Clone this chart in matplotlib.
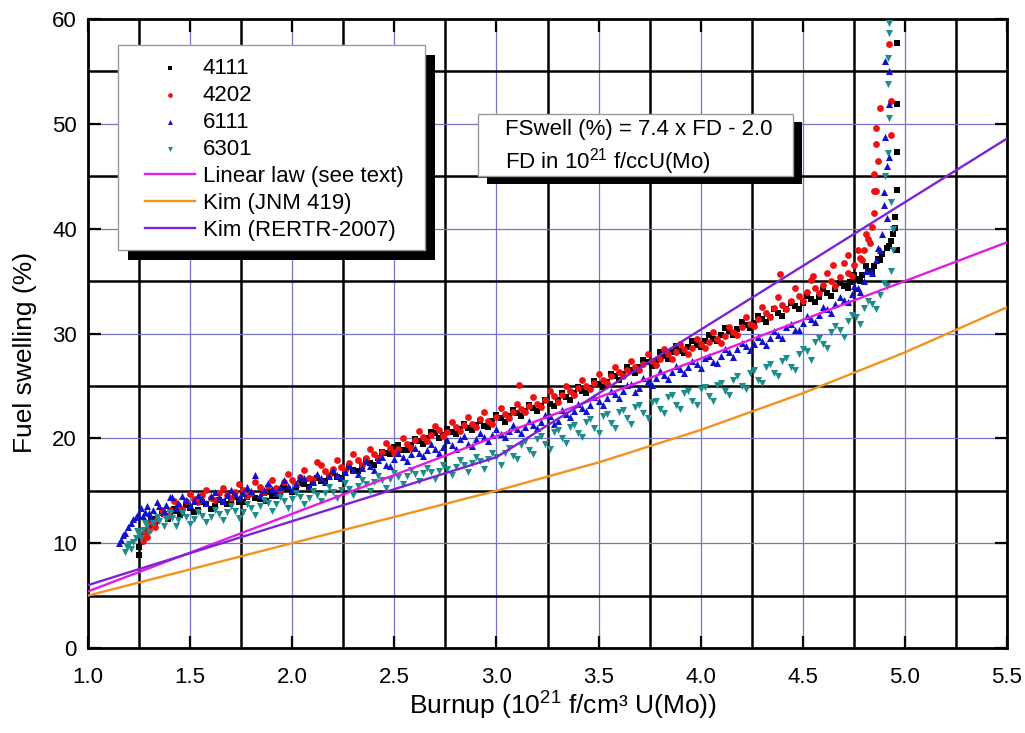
import matplotlib.pyplot as plt
from matplotlib.patches import Rectangle

plt.rcParams["font.family"] = ["Liberation Sans", "DejaVu Sans"]
plt.rcParams["mathtext.default"] = "regular"

# --- measured data (burnup in 1e21 f/cm3, swelling in %) ---
x_4111 = [1.25, 1.25, 1.26, 1.27, 1.28, 1.30, 1.32, 1.34, 1.37, 1.40, 1.43, 1.46, 1.50, 1.54, 1.58,
          1.62, 1.66, 1.70, 1.74, 1.78, 1.82, 1.86, 1.87, 1.90, 1.94, 1.98, 2.02, 2.06, 2.10, 2.14,
          2.18, 2.22, 2.26, 2.30, 2.34, 2.38, 2.42, 2.46, 2.50, 2.54, 2.58, 2.62, 2.66, 2.70, 2.74,
          2.78, 2.82, 2.86, 2.90, 2.94, 2.98, 3.02, 3.06, 3.10, 3.14, 3.18, 3.22, 3.26, 3.30, 3.34,
          3.38, 3.42, 3.46, 3.50, 3.54, 3.58, 3.62, 3.66, 3.70, 3.74, 3.78, 3.82, 3.86, 3.90, 3.94,
          3.98, 4.02, 4.06, 4.10, 4.14, 4.18, 4.22, 4.26, 4.30, 4.34, 4.38, 4.42, 4.46, 4.50, 4.54,
          4.58, 4.62, 4.66, 4.70, 4.73, 4.76, 4.79, 4.82, 4.85, 4.87, 4.89, 4.91, 4.93, 4.94, 4.95,
          4.95, 4.96, 4.96, 4.96, 4.96, 4.96]
y_4111 = [8.9, 9.6, 10.1, 10.6, 11.2, 11.6, 12.3, 12.1, 12.8, 12.6, 13.1, 12.9, 13.4, 13.2, 13.7,
          13.5, 13.9, 14.1, 13.9, 14.4, 14.3, 14.8, 14.0, 14.5, 15.0, 15.2, 15.1, 15.6, 15.8, 15.9,
          16.4, 16.3, 16.8, 17.0, 17.4, 17.6, 18.1, 18.6, 19.2, 18.9, 19.4, 19.7, 20.0, 20.5, 20.3,
          20.6, 20.9, 21.0, 21.3, 21.2, 21.7, 21.9, 22.1, 22.4, 22.6, 22.9, 23.1, 23.3, 23.7, 23.9,
          24.3, 24.5, 24.8, 25.2, 25.4, 25.9, 26.1, 26.5, 26.8, 27.3, 27.4, 27.9, 28.2, 28.3, 28.7,
          28.9, 29.3, 29.5, 29.9, 30.2, 30.4, 30.8, 31.0, 31.4, 31.6, 32.0, 32.3, 32.6, 32.9, 33.3,
          33.5, 33.9, 34.2, 34.5, 34.9, 35.2, 35.6, 36.0, 36.4, 37.1, 37.6, 38.2, 38.8, 39.5, 40.1,
          41.1, 43.7, 47.3, 51.9, 57.7, 38.0]
x_4111_b = [1.29, 1.31, 1.33, 1.36, 1.39, 1.42, 1.45, 1.48, 1.52, 1.56, 1.60, 1.64, 1.68, 1.72, 1.76,
            1.80, 1.84, 1.88, 1.92, 1.96, 2.00, 2.04, 2.08, 2.12, 2.16, 2.20, 2.24, 2.28, 2.32, 2.36,
            2.40, 2.44, 2.48, 2.52, 2.56, 2.60, 2.64, 2.68, 2.72, 2.76, 2.80, 2.84, 2.88, 2.92, 2.96,
            3.00, 3.04, 3.08, 3.12, 3.16, 3.20, 3.24, 3.28, 3.32, 3.36, 3.40, 3.44, 3.48, 3.52, 3.56,
            3.60, 3.64, 3.68, 3.72, 3.76, 3.80, 3.84, 3.88, 3.92, 3.96, 4.00, 4.04, 4.08, 4.12, 4.16,
            4.20, 4.24, 4.28, 4.32, 4.36, 4.40, 4.44, 4.48, 4.52, 4.56, 4.60, 4.64, 4.68, 4.72, 4.75,
            4.78, 4.81, 4.84, 4.88, 4.92]
y_4111_b = [11.0, 12.2, 11.8, 12.9, 12.3, 13.3, 12.7, 13.6, 13.0, 13.9, 13.3, 14.1, 13.7, 14.4, 13.9,
            14.7, 14.2, 14.9, 14.5, 15.4, 14.9, 15.7, 15.4, 16.2, 15.9, 16.7, 16.2, 17.3, 16.9, 17.9,
            17.5, 18.7, 18.5, 19.4, 18.9, 19.9, 19.5, 20.6, 20.0, 20.9, 20.4, 21.4, 20.8, 21.7, 21.1,
            22.2, 21.6, 22.7, 22.1, 23.2, 22.6, 23.7, 23.1, 24.3, 23.7, 24.9, 24.3, 25.5, 24.9, 26.1,
            25.6, 26.8, 26.2, 27.5, 26.9, 28.2, 27.6, 28.8, 28.1, 29.3, 28.7, 29.9, 29.3, 30.5, 29.9,
            31.1, 30.5, 31.7, 31.1, 32.3, 31.7, 32.9, 32.3, 33.6, 33.0, 34.2, 33.6, 34.8, 34.3, 35.6,
            35.0, 36.4, 35.9, 37.0, 38.3]

x_4202 = [1.27, 1.28, 1.30, 1.32, 1.34, 1.37, 1.40, 1.44, 1.48, 1.52, 1.56, 1.60, 1.64, 1.68, 1.72,
          1.76, 1.80, 1.84, 1.88, 1.92, 1.96, 2.00, 2.04, 2.08, 2.12, 2.16, 2.20, 2.24, 2.28, 2.32,
          2.36, 2.40, 2.44, 2.48, 2.52, 2.56, 2.60, 2.64, 2.68, 2.72, 2.76, 2.80, 2.84, 2.88, 2.92,
          2.96, 3.00, 3.04, 3.08, 3.11, 3.12, 3.16, 3.20, 3.24, 3.28, 3.32, 3.36, 3.40, 3.44, 3.48,
          3.52, 3.56, 3.60, 3.64, 3.68, 3.72, 3.76, 3.80, 3.84, 3.88, 3.92, 3.96, 4.00, 4.04, 4.08,
          4.12, 4.16, 4.20, 4.24, 4.28, 4.32, 4.36, 4.39, 4.40, 4.44, 4.48, 4.52, 4.55, 4.56, 4.60,
          4.64, 4.65, 4.68, 4.72, 4.72, 4.75, 4.78, 4.80, 4.82, 4.84, 4.85, 4.86, 4.85, 4.87, 4.86,
          4.86, 4.85, 4.88, 4.92, 4.93, 4.93]
y_4202 = [10.2, 10.9, 11.3, 11.8, 12.3, 12.8, 13.2, 13.6, 14.0, 14.2, 14.6, 14.3, 14.8, 14.6, 14.9,
          15.1, 14.8, 15.4, 15.5, 15.3, 15.8, 16.0, 16.3, 16.2, 17.7, 16.9, 17.1, 17.3, 17.6, 17.9,
          18.1, 18.5, 18.7, 19.1, 19.0, 19.5, 19.8, 20.1, 20.3, 20.8, 20.6, 21.1, 21.3, 21.4, 21.8,
          21.7, 22.0, 22.3, 22.5, 25.1, 22.8, 23.1, 23.3, 23.7, 24.0, 24.1, 24.5, 24.8, 25.0, 25.3,
          25.6, 25.9, 26.3, 26.5, 26.8, 27.1, 27.4, 27.6, 28.0, 28.2, 28.5, 28.6, 29.0, 29.2, 29.5,
          29.8, 30.1, 30.6, 30.9, 31.4, 32.0, 32.4, 35.7, 32.7, 33.1, 33.6, 34.0, 35.5, 34.3, 34.6,
          35.0, 36.5, 35.4, 35.8, 37.5, 36.5, 37.2, 38.0, 39.0, 40.2, 41.5, 43.6, 45.2, 46.5, 48.1,
          49.6, 43.6, 51.5, 57.6, 52.2, 48.9]
x_4202_b = [1.29, 1.31, 1.33, 1.36, 1.39, 1.42, 1.46, 1.50, 1.54, 1.58, 1.62, 1.66, 1.70, 1.74, 1.78,
            1.82, 1.86, 1.90, 1.94, 1.98, 2.02, 2.06, 2.10, 2.14, 2.18, 2.22, 2.26, 2.30, 2.34, 2.38,
            2.42, 2.46, 2.50, 2.54, 2.58, 2.62, 2.66, 2.70, 2.74, 2.78, 2.82, 2.86, 2.90, 2.94, 2.98,
            3.02, 3.06, 3.10, 3.14, 3.18, 3.22, 3.26, 3.30, 3.34, 3.38, 3.42, 3.46, 3.50, 3.54, 3.58,
            3.62, 3.66, 3.70, 3.74, 3.78, 3.82, 3.86, 3.90, 3.94, 3.98, 4.02, 4.06, 4.10, 4.14, 4.18,
            4.22, 4.26, 4.30, 4.34, 4.38, 4.42, 4.46, 4.50, 4.54, 4.58, 4.62, 4.66, 4.70, 4.74, 4.77,
            4.79, 4.81, 4.83]
y_4202_b = [10.6, 12.1, 11.5, 13.2, 12.6, 14.0, 13.3, 14.7, 13.9, 15.1, 14.1, 15.3, 14.3, 15.6, 14.5,
            15.8, 14.9, 16.0, 15.1, 16.6, 15.6, 17.0, 16.1, 17.5, 16.5, 17.9, 17.0, 18.5, 17.5, 19.0,
            18.1, 19.6, 18.6, 20.0, 19.1, 20.7, 19.7, 21.2, 20.2, 21.6, 20.7, 22.0, 21.1, 22.5, 21.4,
            22.9, 21.9, 23.3, 22.5, 23.9, 23.0, 24.5, 23.5, 25.0, 24.1, 25.6, 24.7, 26.1, 25.3, 26.8,
            25.9, 27.4, 26.5, 28.0, 27.0, 28.5, 27.6, 29.0, 28.0, 29.5, 28.6, 30.1, 29.1, 30.6, 29.9,
            31.6, 30.7, 32.5, 31.6, 33.5, 32.3, 34.3, 33.1, 35.1, 33.9, 35.8, 34.5, 36.7, 35.5, 38.0,
            37.0, 39.5, 38.6]

x_6111 = [1.15, 1.16, 1.17, 1.18, 1.195, 1.21, 1.22, 1.235, 1.245, 1.26, 1.28, 1.30, 1.32, 1.35, 1.38,
          1.41, 1.44, 1.48, 1.52, 1.56, 1.60, 1.64, 1.68, 1.72, 1.76, 1.80, 1.82, 1.86, 1.90, 1.94,
          1.98, 2.02, 2.06, 2.10, 2.14, 2.18, 2.22, 2.26, 2.30, 2.34, 2.38, 2.42, 2.46, 2.50, 2.54,
          2.58, 2.62, 2.66, 2.70, 2.74, 2.78, 2.82, 2.86, 2.90, 2.94, 2.98, 3.02, 3.06, 3.10, 3.14,
          3.18, 3.22, 3.26, 3.30, 3.34, 3.38, 3.42, 3.46, 3.50, 3.54, 3.58, 3.62, 3.66, 3.70, 3.74,
          3.78, 3.82, 3.86, 3.90, 3.94, 3.98, 4.02, 4.06, 4.10, 4.14, 4.18, 4.22, 4.26, 4.30, 4.34,
          4.38, 4.42, 4.46, 4.50, 4.54, 4.58, 4.62, 4.66, 4.70, 4.74, 4.77, 4.80, 4.83, 4.86, 4.88,
          4.89, 4.90, 4.91, 4.90, 4.91, 4.92, 4.905, 4.92, 4.92, 4.905]
y_6111 = [10.0, 10.3, 10.8, 11.0, 11.5, 11.9, 12.3, 12.5, 12.8, 13.4, 13.0, 12.9, 13.2, 13.5, 13.6,
          14.4, 13.8, 14.1, 14.0, 14.2, 14.5, 14.3, 14.6, 14.7, 14.8, 15.0, 16.5, 15.1, 15.2, 15.4,
          15.5, 15.6, 16.2, 15.8, 16.2, 16.4, 16.5, 16.8, 17.0, 17.2, 17.4, 17.9, 17.5, 18.0, 18.2,
          18.5, 18.6, 18.9, 19.0, 19.2, 19.4, 19.9, 19.5, 19.9, 20.1, 20.3, 20.4, 20.7, 20.9, 21.1,
          21.3, 21.6, 22.1, 21.7, 22.3, 22.6, 22.9, 23.2, 23.6, 23.8, 24.2, 24.5, 25.2, 24.8, 25.5,
          25.8, 26.0, 26.3, 26.6, 26.8, 27.1, 27.7, 27.3, 27.9, 28.2, 28.5, 28.8, 29.0, 29.3, 29.6,
          29.9, 30.6, 30.3, 31.0, 31.4, 31.8, 32.3, 32.8, 33.2, 33.8, 34.3, 35.0, 36.0, 37.0, 38.0,
          39.5, 42.3, 41.0, 43.5, 46.0, 46.8, 48.7, 51.9, 55.0, 56.0]
x_6111_b = [1.27, 1.29, 1.31, 1.34, 1.37, 1.40, 1.43, 1.46, 1.50, 1.54, 1.58, 1.62, 1.66, 1.70, 1.74,
            1.78, 1.84, 1.88, 1.92, 1.96, 2.00, 2.04, 2.08, 2.12, 2.16, 2.20, 2.24, 2.28, 2.32, 2.36,
            2.40, 2.44, 2.48, 2.52, 2.56, 2.60, 2.64, 2.68, 2.72, 2.76, 2.80, 2.84, 2.88, 2.92, 2.96,
            3.00, 3.04, 3.08, 3.12, 3.16, 3.20, 3.24, 3.28, 3.32, 3.36, 3.40, 3.44, 3.48, 3.52, 3.56,
            3.60, 3.64, 3.68, 3.72, 3.76, 3.80, 3.84, 3.88, 3.92, 3.96, 4.00, 4.04, 4.08, 4.12, 4.16,
            4.20, 4.24, 4.28, 4.32, 4.36, 4.40, 4.44, 4.48, 4.52, 4.56, 4.60, 4.64, 4.68, 4.72, 4.75,
            4.78, 4.81, 4.84, 4.87]
y_6111_b = [12.6, 13.5, 12.5, 13.9, 13.1, 14.4, 13.4, 14.5, 13.6, 14.6, 13.8, 14.9, 14.0, 15.1, 14.3,
            15.4, 14.6, 15.7, 14.8, 16.0, 15.1, 16.3, 15.5, 16.6, 15.8, 17.0, 16.2, 17.4, 16.6, 17.8,
            17.0, 18.2, 17.4, 18.6, 17.8, 19.1, 18.3, 19.5, 18.6, 19.8, 19.0, 20.2, 19.3, 20.5, 19.7,
            20.9, 20.1, 21.3, 20.5, 21.7, 21.0, 22.2, 21.4, 22.7, 22.0, 23.3, 22.6, 23.9, 23.2, 24.5,
            23.8, 25.1, 24.4, 25.8, 25.1, 26.4, 25.7, 26.9, 26.2, 27.4, 26.7, 27.9, 27.2, 28.5, 27.8,
            29.1, 28.4, 29.7, 28.9, 30.2, 29.6, 30.9, 30.3, 31.7, 31.1, 32.5, 32.0, 33.5, 33.0, 34.5,
            34.0, 36.0, 35.8, 38.2]

x_6301 = [1.18, 1.19, 1.20, 1.22, 1.235, 1.25, 1.27, 1.29, 1.32, 1.35, 1.38, 1.41, 1.44, 1.48, 1.52,
          1.56, 1.60, 1.64, 1.68, 1.72, 1.76, 1.80, 1.84, 1.88, 1.92, 1.96, 2.00, 2.04, 2.08, 2.12,
          2.16, 2.20, 2.24, 2.28, 2.32, 2.36, 2.40, 2.44, 2.48, 2.52, 2.56, 2.60, 2.64, 2.68, 2.72,
          2.76, 2.80, 2.84, 2.88, 2.92, 2.96, 3.00, 3.04, 3.08, 3.12, 3.16, 3.20, 3.24, 3.28, 3.32,
          3.36, 3.40, 3.44, 3.48, 3.52, 3.56, 3.60, 3.64, 3.68, 3.72, 3.76, 3.80, 3.84, 3.88, 3.92,
          3.96, 4.00, 4.04, 4.08, 4.12, 4.16, 4.20, 4.24, 4.28, 4.32, 4.36, 4.40, 4.44, 4.48, 4.52,
          4.56, 4.60, 4.64, 4.68, 4.72, 4.76, 4.80, 4.84, 4.88, 4.91, 4.93, 4.94, 4.94, 4.93, 4.905,
          4.915, 4.92, 4.915, 4.915, 4.92, 4.92]
y_6301 = [9.2, 9.6, 9.9, 10.1, 10.5, 10.9, 11.3, 11.6, 11.9, 12.1, 12.3, 12.4, 12.2, 12.5, 12.3,
          12.6, 12.5, 12.8, 13.0, 13.1, 13.0, 13.4, 13.5, 13.8, 13.7, 14.0, 14.2, 14.4, 14.3, 14.6,
          14.8, 14.9, 15.1, 15.2, 15.5, 15.6, 15.8, 16.0, 16.1, 16.3, 16.4, 16.6, 16.7, 16.8, 16.9,
          17.1, 17.3, 17.5, 17.6, 17.8, 18.0, 18.2, 18.6, 18.3, 19.4, 18.9, 19.9, 19.5, 20.6, 20.0,
          21.1, 20.5, 21.6, 21.0, 22.1, 21.5, 22.5, 21.9, 23.0, 22.4, 23.5, 22.8, 23.9, 23.2, 24.3,
          23.6, 24.7, 24.0, 25.1, 24.5, 25.6, 25.0, 26.2, 25.6, 26.8, 26.2, 27.4, 26.8, 28.0, 28.3,
          29.2, 29.0, 30.1, 30.3, 31.2, 31.6, 32.4, 32.8, 33.7, 34.5, 36.0, 38.0, 40.0, 42.5, 45.0,
          47.2, 50.6, 53.8, 56.3, 58.7, 59.6]
x_6301_b = [1.21, 1.24, 1.26, 1.28, 1.30, 1.34, 1.37, 1.40, 1.43, 1.46, 1.50, 1.54, 1.58, 1.62, 1.66,
            1.70, 1.74, 1.78, 1.82, 1.86, 1.90, 1.94, 1.98, 2.02, 2.06, 2.10, 2.14, 2.18, 2.22, 2.26,
            2.30, 2.34, 2.38, 2.42, 2.46, 2.50, 2.54, 2.58, 2.62, 2.66, 2.70, 2.74, 2.78, 2.82, 2.86,
            2.90, 2.94, 2.98, 3.02, 3.06, 3.10, 3.14, 3.18, 3.22, 3.26, 3.30, 3.34, 3.38, 3.42, 3.46,
            3.50, 3.54, 3.58, 3.62, 3.66, 3.70, 3.74, 3.78, 3.82, 3.86, 3.90, 3.94, 3.98, 4.02, 4.06,
            4.10, 4.14, 4.18, 4.22, 4.26, 4.30, 4.34, 4.38, 4.42, 4.46, 4.50, 4.54, 4.58, 4.62, 4.66,
            4.70, 4.74, 4.78, 4.82, 4.86, 4.90]
y_6301_b = [9.4, 11.2, 10.5, 11.9, 11.1, 12.5, 11.6, 12.9, 11.6, 12.9, 11.8, 13.0, 12.0, 13.2, 12.2,
            13.5, 12.4, 13.7, 12.7, 14.1, 13.1, 14.4, 13.4, 14.8, 13.7, 15.0, 14.0, 15.4, 14.3, 15.7,
            14.6, 16.0, 15.0, 16.4, 15.3, 16.7, 15.6, 17.0, 15.9, 17.2, 16.1, 17.5, 16.5, 17.9, 16.8,
            18.2, 17.1, 18.6, 17.5, 19.1, 18.0, 19.7, 18.5, 20.2, 19.0, 20.8, 19.6, 21.3, 20.1, 21.8,
            20.5, 22.3, 21.0, 22.7, 21.4, 23.2, 21.9, 23.6, 22.4, 24.1, 22.8, 24.5, 23.2, 24.9, 23.6,
            25.3, 24.1, 25.9, 24.7, 26.5, 25.3, 27.1, 25.9, 27.7, 26.5, 28.5, 27.5, 29.6, 28.6, 30.7,
            29.7, 31.8, 30.9, 33.1, 32.3, 34.8]

# --- model curves ---
linear_x = [1.0, 5.5]
linear_y = [5.4, 38.7]
jnm_x = [1.0, 1.5, 2.0, 2.5, 3.0, 3.5, 4.0, 4.5, 5.0, 5.5]
jnm_y = [5.0, 7.5, 10.0, 12.5, 15.0, 17.7, 20.8, 24.3, 28.2, 32.5]
rertr_x = [1.0, 3.0, 5.5]
rertr_y = [6.0, 18.2, 48.6]

xticks = [1.0, 1.5, 2.0, 2.5, 3.0, 3.5, 4.0, 4.5, 5.0, 5.5]
xminor = [1.25, 1.75, 2.25, 2.75, 3.25, 3.75, 4.25, 4.75, 5.25]
yticks = [0, 10, 20, 30, 40, 50, 60]
yminor = [5, 15, 25, 35, 45, 55]

W, H = 1025, 733
fig = plt.figure(figsize=(W / 100, H / 100), dpi=100)
ax = fig.add_axes([88 / W, 1 - 648 / H, 919 / W, 629 / H])

s1 = ax.scatter(x_4111 + x_4111_b, y_4111 + y_4111_b, marker="s", s=16, color="black",
                linewidths=0, label="4111", zorder=3)
s2 = ax.scatter(x_4202 + x_4202_b, y_4202 + y_4202_b, marker="o", s=24, color="#ee1111",
                linewidths=0, label="4202", zorder=3)
s3 = ax.scatter(x_6111 + x_6111_b, y_6111 + y_6111_b, marker="^", s=26, color="#1111cc",
                linewidths=0, label="6111", zorder=3)
s4 = ax.scatter(x_6301 + x_6301_b, y_6301 + y_6301_b, marker="v", s=26, color="#1f8c8c",
                linewidths=0, label="6301", zorder=3)

l1, = ax.plot(linear_x, linear_y, color="#e21ce2", lw=1.7, label="Linear law (see text)", zorder=4)
l2, = ax.plot(jnm_x, jnm_y, color="#f3921c", lw=1.7, label="Kim (JNM 419)", zorder=4)
l3, = ax.plot(rertr_x, rertr_y, color="#7e22d4", lw=1.7, label="Kim (RERTR-2007)", zorder=4)

ax.set_xlim(1.0, 5.5)
ax.set_ylim(0, 60)
ax.set_xticks(xticks)
ax.set_xticklabels([f"{v:.1f}" for v in xticks])
ax.set_xticks(xminor, minor=True)
ax.set_yticks(yticks)
ax.set_yticks(yminor, minor=True)
ax.set_axisbelow(True)
ax.grid(which="major", color="#7676c8", lw=0.9)
ax.grid(which="minor", color="black", lw=1.8)
ax.tick_params(which="major", direction="in", length=9, width=1.6, top=True, right=True,
               labelsize=16)
ax.tick_params(axis="x", which="major", pad=14)
ax.tick_params(axis="y", which="major", pad=8)
ax.tick_params(which="minor", length=0)
for sp in ax.spines.values():
    sp.set_linewidth(2)

fig.text(563 / W, 1 - 706 / H, "Burnup (10$^{21}$ f/cm³ U(Mo))", fontsize=19, ha="center", va="center")
fig.text(25 / W, 1 - 352 / H, "Fuel swelling (%)", fontsize=19, rotation=90, ha="center", va="center")


# white box with gray edge and a black drop shadow, in figure pixels
def boxed(x0, y0, x1, y1, dx, dy):
    ax.add_patch(Rectangle(((x0 + dx) / W, 1 - (y1 + dy) / H), (x1 - x0) / W, (y1 - y0) / H,
                           transform=fig.transFigure, fc="black", ec="none", zorder=4.4, clip_on=False))
    ax.add_patch(Rectangle((x0 / W, 1 - y1 / H), (x1 - x0) / W, (y1 - y0) / H,
                           transform=fig.transFigure, fc="white", ec="#9a9a9a", lw=1, zorder=4.5,
                           clip_on=False))


boxed(118, 45, 425, 250, 10, 10)
leg = ax.legend(handles=[s1, s2, s3, s4, l1, l2, l3], loc="upper left",
                bbox_to_anchor=(145 / W, 1 - 58 / H), bbox_transform=fig.transFigure,
                frameon=False, fontsize=16, handlelength=2.25, handletextpad=0.35,
                labelspacing=0.27, borderpad=0, borderaxespad=0, scatterpoints=1,
                markerscale=0.7)
leg.set_zorder(6)

boxed(478, 114, 793, 176, 9, 8)
ax.text(505 / W, 1 - 130 / H, "FSwell (%) = 7.4 x FD - 2.0", transform=fig.transFigure,
        fontsize=16, va="center", zorder=6)
ax.text(505 / W, 1 - 162 / H, "FD in 10$^{21}$ f/ccU(Mo)", transform=fig.transFigure,
        fontsize=16, va="center", zorder=6)

fig.savefig("out.png", dpi=100)
